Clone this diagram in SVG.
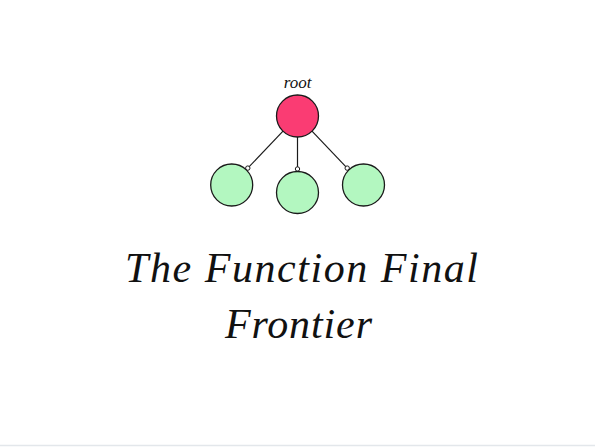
<svg xmlns="http://www.w3.org/2000/svg" width="595" height="447" viewBox="0 0 595 447">
<style>
.child{fill:#b3f7c0;stroke:#1a1a1a;stroke-width:1.3}
.root{fill:#fa3c73;stroke:#1a1a1a;stroke-width:1.3}
.edge{stroke:#1a1a1a;stroke-width:1.2;fill:none}
.dot{fill:#fff;stroke:#1a1a1a;stroke-width:1}
.it{font-family:'Liberation Serif',serif;font-style:italic;fill:#111}
</style>
<rect width="595" height="447" fill="#fff"/>
<g id="connectors">
<line class="edge" x1="283" y1="131.2" x2="247.8" y2="168.1"/>
<line class="edge" x1="297.5" y1="137" x2="297.5" y2="169"/>
<line class="edge" x1="312" y1="131.2" x2="347.2" y2="168.1"/>
<circle class="dot" cx="247.8" cy="168.1" r="2.2"/>
<circle class="dot" cx="297.5" cy="169" r="2.2"/>
<circle class="dot" cx="347.2" cy="168.1" r="2.2"/>
</g>
<g id="root">
<circle class="root" cx="297.5" cy="116" r="21"/>
<text class="it" x="297.5" y="88" font-size="17" text-anchor="middle">root</text>
</g>
<g id="child1"><circle class="child" cx="231.7" cy="185" r="21"/></g>
<g id="child2"><circle class="child" cx="297.5" cy="192.5" r="21"/></g>
<g id="child3"><circle class="child" cx="363.5" cy="185" r="21"/></g>
<g id="title">
<text class="it" x="301.5" y="282" font-size="42" text-anchor="middle" textLength="353" lengthAdjust="spacing">The Function Final</text>
<text class="it" x="298.5" y="338" font-size="42" text-anchor="middle" textLength="147" lengthAdjust="spacing">Frontier</text>
</g>
<line x1="0" y1="445.5" x2="595" y2="445.5" stroke="#e3e7eb" stroke-width="1.5"/>
</svg>
